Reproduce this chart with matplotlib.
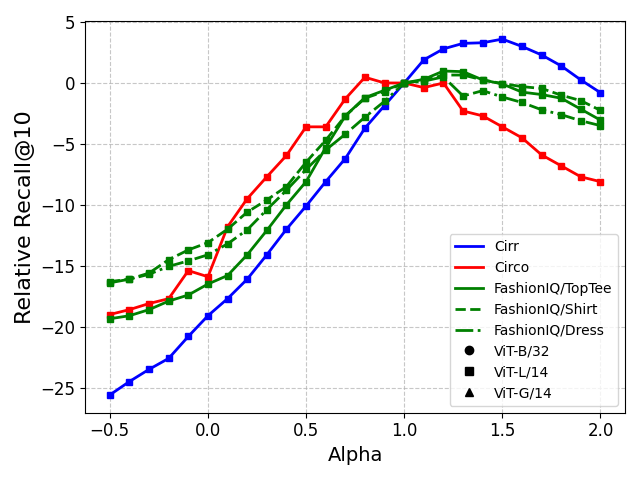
import numpy as np
import matplotlib
matplotlib.use("Agg")
import matplotlib.pyplot as plt
from matplotlib.lines import Line2D

alpha = np.round(np.arange(-0.5, 2.01, 0.1), 1)

cirr = [-25.6, -24.5, -23.5, -22.6, -20.8, -19.1, -17.7, -16.1, -14.1, -12.0,
        -10.1, -8.1, -6.2, -3.7, -1.85, 0.0, 1.9, 2.8, 3.25, 3.3,
        3.6, 3.0, 2.3, 1.4, 0.25, -0.8]
circo = [-19.0, -18.6, -18.1, -17.7, -15.4, -15.9, -11.8, -9.5, -7.7, -5.95,
         -3.6, -3.6, -1.3, 0.47, 0.0, 0.0, -0.38, 0.0, -2.3, -2.7,
         -3.6, -4.5, -5.9, -6.8, -7.7, -8.1]
toptee = [-19.35, -19.1, -18.6, -17.9, -17.4, -16.5, -15.8, -14.1, -12.1, -10.0,
          -8.1, -5.3, -2.7, -1.2, -0.6, 0.0, 0.3, 0.98, 0.93, 0.25,
          -0.08, -0.75, -0.95, -1.25, -2.15, -3.05]
shirt = [-16.3, -16.1, -15.6, -14.5, -13.7, -13.1, -12.0, -10.6, -9.6, -8.5,
         -6.5, -4.7, -2.7, -1.25, -0.7, 0.0, 0.2, 0.65, 0.65, 0.25,
         -0.05, -0.3, -0.45, -1.0, -1.45, -2.25]
dress = [-16.4, -16.1, -15.7, -15.05, -14.6, -14.1, -13.2, -12.05, -10.4, -8.8,
         -7.1, -5.5, -4.2, -2.8, -1.5, 0.0, 0.15, 0.5, -1.07, -0.63,
         -1.15, -1.6, -2.2, -2.6, -3.1, -3.5]

fig, ax = plt.subplots(figsize=(6.4, 4.8), dpi=100)

ax.plot(alpha, cirr, color='blue', linestyle='-', marker='s', lw=2, ms=5)
ax.plot(alpha, circo, color='red', linestyle='-', marker='s', lw=2, ms=5)
ax.plot(alpha, toptee, color='green', linestyle='-', marker='s', lw=2, ms=5)
ax.plot(alpha, shirt, color='green', linestyle='--', marker='s', lw=2, ms=5)
ax.plot(alpha, dress, color='green', linestyle='-.', marker='s', lw=2, ms=5)

ax.set_xlabel('Alpha', fontsize=14)
ax.set_ylabel('Relative Recall@10', fontsize=16)
ax.tick_params(labelsize=12)
ax.grid(True, linestyle='--', alpha=0.7)

handles = [
    Line2D([], [], color='blue', lw=2, label='Cirr'),
    Line2D([], [], color='red', lw=2, label='Circo'),
    Line2D([], [], color='green', lw=2, ls='-', label='FashionIQ/TopTee'),
    Line2D([], [], color='green', lw=2, ls='--', label='FashionIQ/Shirt'),
    Line2D([], [], color='green', lw=2, ls='-.', label='FashionIQ/Dress'),
    Line2D([], [], color='black', marker='o', ls='None', label='ViT-B/32'),
    Line2D([], [], color='black', marker='s', ls='None', label='ViT-L/14'),
    Line2D([], [], color='black', marker='^', ls='None', label='ViT-G/14'),
]
ax.legend(handles=handles, loc='lower right')

plt.tight_layout()
plt.savefig('out.png')
